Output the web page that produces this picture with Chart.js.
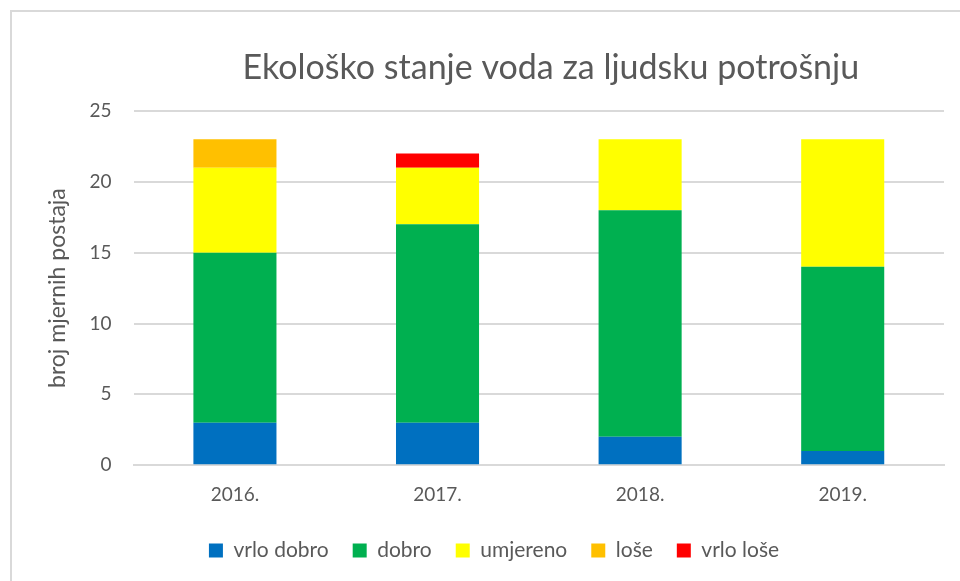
<!DOCTYPE html>
<html>
<head>
<meta charset="utf-8">
<script src="https://cdn.jsdelivr.net/npm/chart.js@4/dist/chart.umd.min.js"></script>
<style>
  html, body { margin: 0; padding: 0; background: #fff; }
  .frame { position: absolute; left: 10px; top: 10px; width: 960px; height: 581px;
           border-left: 2px solid #d9d9d9; border-top: 2px solid #d9d9d9; }
  .box { position: absolute; left: 0; top: 0; width: 960px; height: 581px; }
</style>
</head>
<body>
<div class="frame"></div>
<div class="box"><canvas id="chart"></canvas></div>
<script>
const years = ['2016.', '2017.', '2018.', '2019.'];
const vrloDobro = [3, 3, 2, 1];
const dobro = [12, 14, 16, 13];
const umjereno = [6, 4, 5, 9];
const lose = [2, 0, 0, 0];
const vrloLose = [0, 1, 0, 0];
const yTicks = [0, 5, 10, 15, 20, 25];

const textColor = '#595959';
const font = "Lato, 'Liberation Sans', sans-serif";

// title drawn over the plot area, slightly right of centre like the original
const titlePlugin = {
    id: 'topTitle',
    afterDraw(chart) {
        const { ctx, chartArea } = chart;
        ctx.save();
        ctx.fillStyle = textColor;
        ctx.font = "34px " + font;
        ctx.textAlign = 'center';
        ctx.textBaseline = 'middle';
        ctx.fillText('Ekološko stanje voda za ljudsku potrošnju', (chartArea.left + chartArea.right) / 2 + 12, 68);
        ctx.restore();
    }
};

new Chart(document.getElementById('chart'), {
    type: 'bar',
    data: {
        labels: years,
        datasets: [
            { label: 'vrlo dobro', data: vrloDobro, backgroundColor: '#0070c0' },
            { label: 'dobro', data: dobro, backgroundColor: '#00b050' },
            { label: 'umjereno', data: umjereno, backgroundColor: '#ffff00' },
            { label: 'loše', data: lose, backgroundColor: '#ffc000' },
            { label: 'vrlo loše', data: vrloLose, backgroundColor: '#ff0000' }
        ]
    },
    plugins: [titlePlugin],
    options: {
        responsive: true,
        maintainAspectRatio: false,
        animation: false,
        layout: { padding: { top: 111, right: 16, left: 44, bottom: 10 } },
        datasets: { bar: { barPercentage: 0.41, categoryPercentage: 1 } },
        scales: {
            x: {
                stacked: true,
                grid: { display: false },
                border: { color: '#d9d9d9', width: 2 },
                ticks: { color: textColor, font: { family: font, size: 19 }, padding: 10 }
            },
            y: {
                stacked: true,
                min: 0,
                max: 25,
                afterBuildTicks(axis) { axis.ticks = yTicks.map(v => ({ value: v })); },
                grid: { color: '#d9d9d9', lineWidth: 2, drawTicks: false },
                border: { display: false },
                ticks: { color: textColor, font: { family: font, size: 19 }, padding: 22 },
                title: {
                    display: true,
                    text: 'broj mjernih postaja',
                    color: textColor,
                    font: { family: font, size: 23 },
                    padding: { top: 0, bottom: -4 }
                }
            }
        },
        plugins: {
            title: { display: false },
            tooltip: { enabled: false },
            legend: {
                position: 'bottom',
                labels: {
                    color: textColor,
                    font: { family: font, size: 21 },
                    boxWidth: 14,
                    boxHeight: 14,
                    padding: 24
                }
            }
        }
    }
});
</script>
</body>
</html>
